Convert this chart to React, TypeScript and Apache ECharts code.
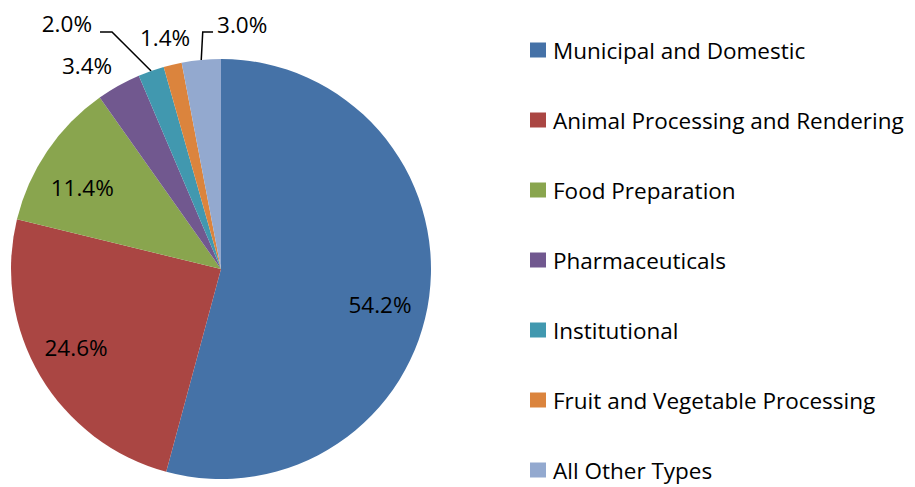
import React, { useEffect, useRef } from "react";
import * as echarts from "echarts";

const categories = [
  "Municipal and Domestic",
  "Animal Processing and Rendering",
  "Food Preparation",
  "Pharmaceuticals",
  "Institutional",
  "Fruit and Vegetable Processing",
  "All Other Types",
];
const shares = [54.2, 24.6, 11.4, 3.4, 2.0, 1.4, 3.0];
const colors = ["#4572A7", "#AA4643", "#89A54E", "#71588F", "#4198AF", "#DB843D", "#93A9CF"];

const CX = 221;
const CY = 269;
const R = 210;
const FONT = "'Open Sans', 'Noto Sans', sans-serif";
const FONT_SIZE = 22.5;

// Label placement: radius factor along the slice's mid-angle, then a pixel nudge.
type LabelLayout = {
  k: number;
  dx: number;
  dy: number;
  align: "left" | "right" | "center";
  leader?: { elbow: [number, number]; end: [number, number] };
};
const LABEL_LAYOUT: LabelLayout[] = [
  { k: 0.776, dx: -2.6, dy: 13.6, align: "center" },
  { k: 0.776, dx: -4.7, dy: -4.5, align: "center" },
  { k: 0.776, dx: -4, dy: 9.6, align: "center" },
  { k: 1, dx: -31.6, dy: -20.1, align: "center" },
  { k: 1, dx: -59.1, dy: -47, align: "right", leader: { elbow: [-39.1, -39], end: [-51.1, -39] } },
  { k: 1, dx: -7.6, dy: -27.6, align: "center" },
  { k: 1, dx: 15.8, dy: -35.9, align: "left", leader: { elbow: [1.5, -27.9], end: [11.8, -27.9] } },
];

function midAngle(i: number): number {
  const total = shares.reduce((a, b) => a + b, 0);
  let cum = 0;
  for (let j = 0; j < i; j++) cum += shares[j];
  return ((cum + shares[i] / 2) / total) * Math.PI * 2;
}
function anchor(i: number, k: number): [number, number] {
  const t = midAngle(i);
  return [CX + R * k * Math.sin(t), CY - R * k * Math.cos(t)];
}

export default function App() {
  const ref = useRef<HTMLDivElement>(null);
  useEffect(() => {
    if (!ref.current) return;
    const chart = echarts.init(ref.current, undefined, { renderer: "svg" });
    chart.setOption({
      animation: false,
      color: colors,
      legend: {
        orient: "vertical",
        left: 530,
        top: 38,
        padding: 0,
        height: 449,
        icon: "rect",
        itemWidth: 16,
        itemHeight: 15,
        itemGap: 46,
        data: categories,
        textStyle: {
          fontFamily: FONT,
          fontSize: FONT_SIZE,
          color: "#000",
          lineHeight: 24,
          padding: [0, 0, 0, 2],
        },
      },
      series: [
        {
          type: "pie",
          center: [CX, CY],
          radius: R,
          startAngle: 90,
          clockwise: true,
          avoidLabelOverlap: false,
          itemStyle: { borderWidth: 0 },
          label: {
            show: true,
            position: "outside",
            formatter: (p: any) => shares[p.dataIndex].toFixed(1) + "%",
            fontFamily: FONT,
            fontSize: FONT_SIZE,
            color: "#000",
          },
          labelLine: { show: false, lineStyle: { color: "#000", width: 1.5 } },
          labelLayout: (params: any) => {
            const i = params.dataIndex;
            const L = LABEL_LAYOUT[i];
            const [ax, ay] = anchor(i, L.k);
            const out: any = {
              x: ax + L.dx,
              y: ay + L.dy,
              align: L.align,
              verticalAlign: "middle",
            };
            if (L.leader) {
              const [ex, ey] = anchor(i, 1);
              out.labelLinePoints = [
                [ex, ey],
                [ex + L.leader.elbow[0], ey + L.leader.elbow[1]],
                [ex + L.leader.end[0], ey + L.leader.end[1]],
              ];
            }
            return out;
          },
          data: categories.map((name, i) => ({
            name,
            value: shares[i],
            labelLine: { show: !!LABEL_LAYOUT[i].leader },
          })),
        },
      ],
    });
    return () => chart.dispose();
  }, []);
  return (
    <div
      ref={ref}
      style={{ position: "fixed", left: 0, top: 0, width: 915, height: 487, background: "#fff" }}
    />
  );
}
